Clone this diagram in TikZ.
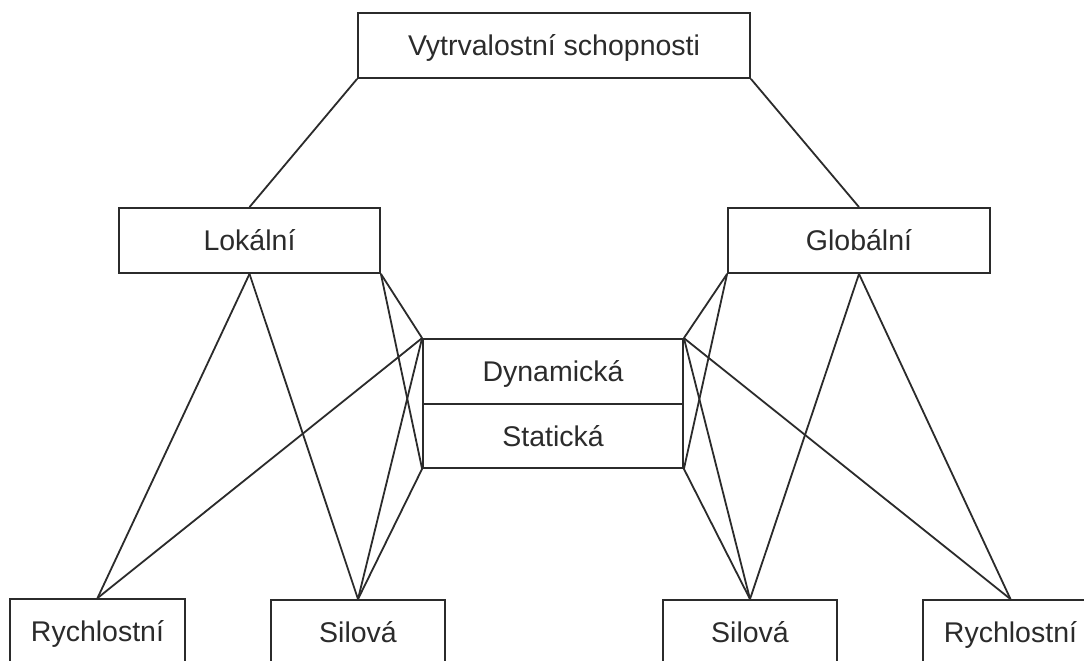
\documentclass[tikz,border=0pt]{standalone}
\usepackage{fontspec}
\setmainfont{Liberation Sans}
\definecolor{ink}{HTML}{2B2B2B}
\begin{document}
\begin{tikzpicture}[x=1pt,y=-1pt,
  box/.style={draw=ink, line width=1.8pt, inner sep=0pt, text=ink,
    font=\fontsize{28.5}{34}\selectfont, text height=20.4pt, text depth=0pt,
    minimum height=65pt},
  link/.style={draw=ink, line width=1.8pt}]
\clip (0,0) rectangle (1084,661);
\fill[white] (0,0) rectangle (1084,661);
% boxes
\node[box, minimum width=392pt] (top) at (554,45.5) {Vytrvalostní schopnosti};
\node[box, minimum width=261pt] (lok) at (249.5,240.5) {Lokální};
\node[box, minimum width=262pt] (glo) at (859,240.5) {Globální};
\node[box, minimum width=260pt] (dyn) at (553,371.5) {Dynamická};
\node[box, minimum width=260pt, minimum height=64pt] (sta) at (553,436) {Statická};
\node[box, minimum width=175pt] (rl) at (97.5,631.5) {Rychlostní};
\node[box, minimum width=174pt] (sl) at (358,632.5) {Silová};
\node[box, minimum width=174pt] (sr) at (750,632.5) {Silová};
\node[box, minimum width=175pt] (rr) at (1010.5,632.5) {Rychlostní};
% connectors top
\draw[link] (top.south west) -- (lok.north);
\draw[link] (top.south east) -- (glo.north);
% left side
\draw[link] (lok.south) -- (rl.north);
\draw[link] (lok.south) -- (sl.north);
\draw[link] (lok.south east) -- (dyn.north west);
\draw[link] (lok.south east) -- (sta.south west);
\draw[link] (dyn.north west) -- (rl.north);
\draw[link] (dyn.north west) -- (sl.north);
\draw[link] (sta.south west) -- (sl.north);
% right side
\draw[link] (glo.south) -- (rr.north);
\draw[link] (glo.south) -- (sr.north);
\draw[link] (glo.south west) -- (dyn.north east);
\draw[link] (glo.south west) -- (sta.south east);
\draw[link] (dyn.north east) -- (rr.north);
\draw[link] (dyn.north east) -- (sr.north);
\draw[link] (sta.south east) -- (sr.north);
\end{tikzpicture}
\end{document}
